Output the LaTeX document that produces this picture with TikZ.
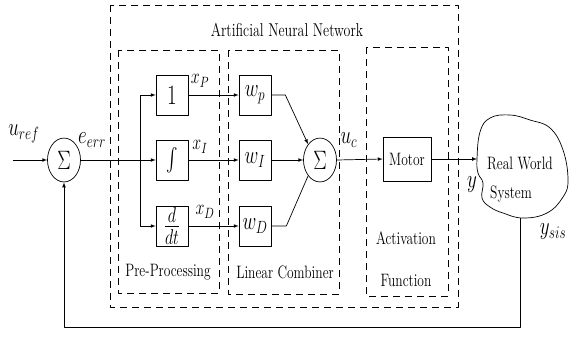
\documentclass[tikz,border=0pt]{standalone}
\usepackage{fix-cm}
\usepackage{exscale}
\begin{document}
\begin{tikzpicture}[>=latex,x=1pt,y=-1pt,line width=0.7pt,line join=round,
	every node/.style={yscale=1.33,inner sep=1pt},
	txt/.style={font=\fontsize{13.5}{16}\selectfont},
	lbl/.style={font=\fontsize{19}{22}\selectfont},
	sig/.style={font=\fontsize{16}{19}\selectfont},
	blk/.style={draw,minimum width=32pt,minimum height=30pt,inner sep=0pt,font=\fontsize{19}{22}\selectfont},
	sumnode/.style={draw,circle,minimum size=33pt,inner sep=0pt,font=\fontsize{20}{24}\selectfont},
	region/.style={dash pattern=on 7pt off 5pt}]
		\useasboundingbox (0,0) rectangle (580,338);
		% dashed regions
		\draw[region] (110,5) rectangle (458,307);
		\draw[region] (118,50) rectangle (219,293);
		\draw[region] (228,50) rectangle (339,294);
		\draw[region] (366,47) rectangle (448,296);
		\node[font=\fontsize{14}{17}\selectfont] (ann) at (287,30) {Artificial Neural Network};
		\node[txt] (prelbl) at (168,272) {Pre-Processing};
		\node[txt] (linlbl) at (285,272) {Linear Combiner};
		\node[txt] (actlbl) at (406,238) {Activation};
		\node[txt] (funlbl) at (406,280) {Function};
		% error sum
		\coordinate (in) at (13,160);
		\node[sumnode] (sumerr) at (64,160) {$\Sigma$};
		\node[lbl] (uref) at (24,134) {$u_{ref}$};
		\node[lbl] (eerr) at (92,140) {$e_{err}$};
		\coordinate (split) at (140,160);
		% pre-processing
		\node[blk] (pone) at (172,95) {\fontsize{21}{24}\selectfont 1};
		\node[blk] (pint) at (172,160) {$\int$};
		\node[blk] (pder) at (172,226) {\fontsize{23}{26}\selectfont$\frac{d}{dt}$};
		\node[sig] (xp) at (200,81) {$x_P$};
		\node[sig] (xi) at (200,147) {$x_I$};
		\node[sig] (xd) at (205,212) {$x_D$};
		% linear combiner
		\node[blk] (wp) at (255,95) {$w_p$};
		\node[blk] (wi) at (255,160) {$w_I$};
		\node[blk] (wd) at (255,226) {$w_D$};
		\node[sumnode] (sumout) at (320,160) {$\Sigma$};
		\node[lbl] (uc) at (349,140) {$u_c$};
		% activation and plant
		\node[draw,txt,minimum width=48pt,minimum height=33pt] (motor) at (407,159) {Motor};
		\draw plot[smooth cycle,tension=0.7] coordinates {(480,132) (490,118) (510,115) (530,120) (550,128) (563,150) (568,180) (563,197) (547,213) (523,218) (503,213) (490,207) (482,198) (483,183) (478,173) (477,159)};
		\node[txt] (rw) at (520,163) {Real World};
		\node[txt] (sys) at (511,194) {System};
		\coordinate (cloudw) at (477,159);
		\coordinate (cloudb) at (520,218);
		\coordinate (fbk) at (520,327);
		\node[lbl] (yout) at (472,185) {$y$};
		\node[lbl] (ysis) at (553,232) {$y_{sis}$};
		% connections
		\draw[->] (in) -- (sumerr.west);
		\draw (sumerr.east) -- (split);
		\draw[->] (split) |- (pone.west);
		\draw[->] (split) -- (pint.west);
		\draw[->] (split) |- (pder.west);
		\draw[->] (pone.east) -- (wp.west);
		\draw[->] (pint.east) -- (wi.west);
		\draw[->] (pder.east) -- (wd.west);
		\draw[->] (wp.east) -- ++(14,0) -- (sumout.135);
		\draw[->] (wi.east) -- (sumout.west);
		\draw (wd.east) -- ++(15,0) -- (sumout.-135);
		\draw[->] (sumout.east) -- (motor.west);
		\draw[->] (motor.east) -- (cloudw);
		\draw[->] (cloudb) -- (fbk) -| (sumerr.south);
	\end{tikzpicture}
\end{document}
